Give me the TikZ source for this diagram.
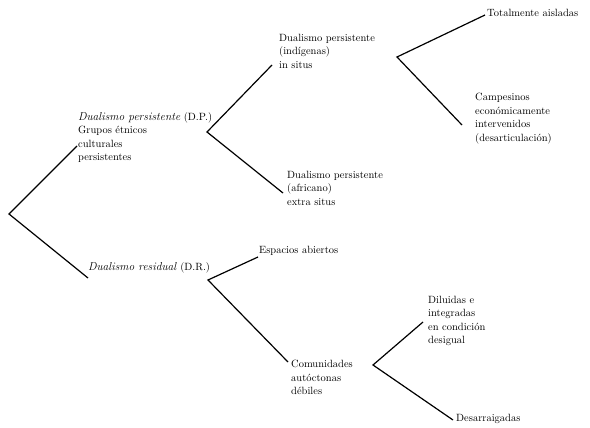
\documentclass[tikz,border=0pt]{standalone}
\usepackage{fontspec}
\usepackage{tikz}

\begin{document}
\begin{tikzpicture}[x=1pt,y=-1pt,
  label/.style={anchor=north west,inner sep=0pt,align=left,
    font=\fontsize{10.5}{13.5}\selectfont},
  branch/.style={line width=1.2pt}]
% Fix the frame to the size of the page
\useasboundingbox (0,0) rectangle (590,428);
% Texts of the tree
\node[label] (dp) at (78,112) {{\fontsize{11.5}{13.5}\selectfont\textit{Dualismo persistente}} (D.P.)\\Grupos étnicos\\culturales\\persistentes};
\node[label] (ind) at (279,34) {Dualismo persistente\\(indígenas)\\in situs};
\node[label] (afr) at (287,171) {Dualismo persistente\\(africano)\\extra situs};
\node[label] (ais) at (487,9) {Totalmente aisladas};
\node[label] (cam) at (475,93) {Campesinos\\económicamente\\intervenidos\\(desarticulación)};
\node[label] (dr) at (88,262) {{\fontsize{11.5}{13.5}\selectfont\textit{Dualismo residual}} (D.R.)};
\node[label] (esp) at (259,246) {Espacios abiertos};
\node[label] (com) at (291,360) {Comunidades\\autóctonas\\débiles};
\node[label] (dil) at (428,296) {Diluidas e\\integradas\\en condición\\desigual};
\node[label] (des) at (456,414) {Desarraigadas};
% Forks of the tree
\coordinate (root) at (9,214);
\coordinate (dpfork) at (207,132);
\coordinate (indfork) at (397,57);
\coordinate (drfork) at (208,280);
\coordinate (comfork) at (373,365);
% Free ends of the branches
\coordinate (dpend) at (77,146);
\coordinate (drend) at (88,278);
\coordinate (indend) at (272,65);
\coordinate (afrend) at (283,193);
\coordinate (aisend) at (485,15);
\coordinate (camend) at (462,125);
\coordinate (espend) at (258,257);
\coordinate (comend) at (288,362);
\coordinate (dilend) at (423,322);
\coordinate (desend) at (453,420);
% Draw the branches
\draw[branch] (dpend) -- (root) -- (drend);
\draw[branch] (indend) -- (dpfork) -- (afrend);
\draw[branch] (aisend) -- (indfork) -- (camend);
\draw[branch] (espend) -- (drfork) -- (comend);
\draw[branch] (dilend) -- (comfork) -- (desend);
\end{tikzpicture}
\end{document}
